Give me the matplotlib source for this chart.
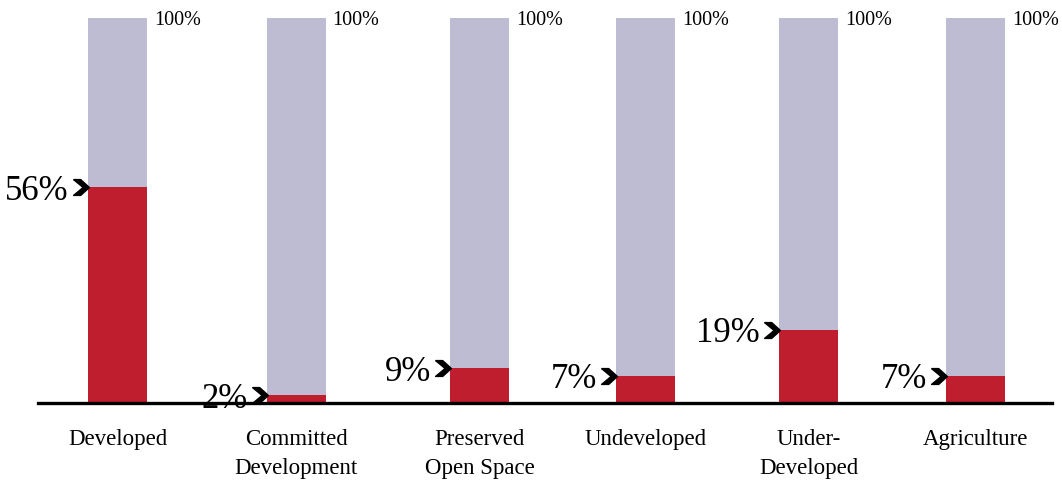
import matplotlib.pyplot as plt
import numpy as np

categories = ['Developed', 'Committed\nDevelopment', 'Preserved\nOpen Space',
              'Undeveloped', 'Under-\nDeveloped', 'Agriculture']
shares = [56, 2, 9, 7, 19, 7]
totals = [100, 100, 100, 100, 100, 100]

# bar centres, roughly where they sit in the original layout
xpos = [117.5, 296, 479.5, 645.5, 808.5, 975.5]
bar_w = 59

grey = '#BEBCD3'
red = '#BE1E2D'

plt.rcParams['font.family'] = ['Liberation Serif', 'DejaVu Serif']

fig = plt.figure(figsize=(10.62, 4.83), dpi=100)
ax = fig.add_axes([38 / 1062, 80 / 483, 1014 / 1062, 385 / 483])

ax.bar(xpos, totals, width=bar_w, color=grey, clip_on=False)
ax.bar(xpos, shares, width=bar_w, color=red, clip_on=False)

# chevron marker
chev = [(-1, 1), (-0.1, 1), (1, 0), (-0.1, -1), (-1, -1), (0.2, 0), (-1, 1)]

for x, s, t in zip(xpos, shares, totals):
    left = x - bar_w / 2
    ax.text(left - 19, s - 1.0, f'{s}%', ha='right', va='center', fontsize=25)
    ax.scatter([left - 7], [s], marker=chev, s=130, color='black',
               clip_on=False, zorder=5)
    ax.text(x + bar_w / 2 + 7, t - 0.6, f'{t}%', ha='left', va='center', fontsize=14.5)

ax.set_xlim(38, 1052)
ax.set_ylim(0, 100)
ax.set_xticks(xpos)
ax.set_xticklabels(categories, fontsize=16.5, linespacing=1.45, va='top')
ax.tick_params(axis='x', length=0, pad=19)
ax.set_yticks([])
for side in ['top', 'left', 'right']:
    ax.spines[side].set_visible(False)
ax.spines['bottom'].set_linewidth(2.4)
ax.spines['bottom'].set_zorder(6)

fig.savefig('out.png', dpi=100)
